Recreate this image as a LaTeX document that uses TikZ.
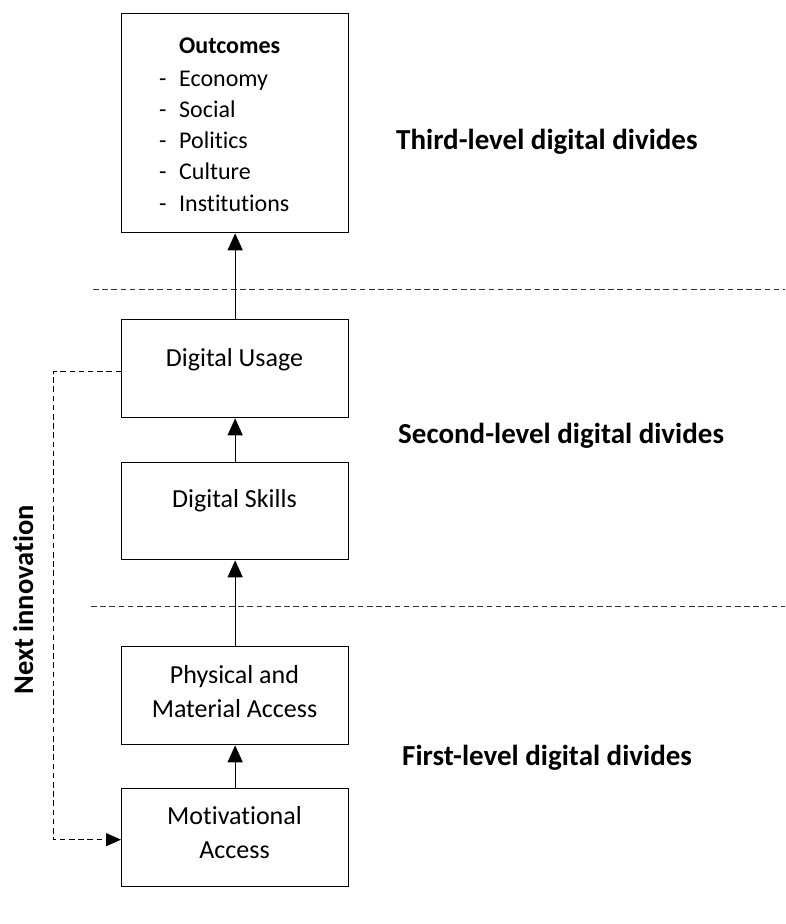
\documentclass[tikz,border=0pt]{standalone}
\usepackage{fontspec}
\setmainfont{Carlito}[RawFeature={-liga,-dlig,-clig}]
\usetikzlibrary{arrows.meta}
\begin{document}
\begin{tikzpicture}[x=1pt,y=-1pt,
  box/.style={draw, line width=1.3pt, minimum width=227pt, inner sep=0pt, anchor=north west},
  boxtext/.style={anchor=base, inner sep=0pt, font=\fontsize{26}{34}\selectfont},
  listtext/.style={anchor=base west, inner sep=0pt, font=\fontsize{24}{31}\selectfont},
  lvl/.style={anchor=base west, inner sep=0pt, font=\fontsize{29}{35}\selectfont\bfseries},
  arr/.style={line width=1.3pt, -{Triangle[length=17pt,width=15pt]}},
  feedback/.style={line width=1pt, dash pattern=on 5.5pt off 3.7pt, -{Triangle[length=15pt,width=13pt]}},
  divider/.style={line width=1pt, black!80, dash pattern=on 5.5pt off 3.7pt}
]
\useasboundingbox (0,0) rectangle (785,924);

% boxes of the model
\node[box, minimum height=219pt] (outcomes) at (121,13) {};
\node[box, minimum height=98pt] (usage) at (121,319) {};
\node[box, minimum height=97pt] (skills) at (121,462) {};
\node[box, minimum height=98pt] (physical) at (121,646) {};
\node[box, minimum height=98pt] (motiv) at (121,788) {};

% outcomes list
\node[listtext, font=\fontsize{24}{31}\selectfont\bfseries] (outT) at (179,53) {Outcomes};
\node[listtext] (o1) at (159,86) {\makebox[20pt][l]{-}Economy};
\node[listtext] (o2) at (159,117) {\makebox[20pt][l]{-}Social};
\node[listtext] (o3) at (159,148) {\makebox[20pt][l]{-}Politics};
\node[listtext] (o4) at (159,179) {\makebox[20pt][l]{-}Culture};
\node[listtext] (o5) at (159,211) {\makebox[20pt][l]{-}Institutions};

% box captions
\node[boxtext] (usageT) at (234.5,366) {Digital Usage};
\node[boxtext] (skillsT) at (234.5,507) {Digital Skills};
\node[boxtext] (physT1) at (234.5,683) {Physical and};
\node[boxtext] (physT2) at (234.5,717) {Material Access};
\node[boxtext] (motivT1) at (234.5,824) {Motivational};
\node[boxtext] (motivT2) at (234.5,858) {Access};

% upward flow
\draw[arr] (usage.north) -- (outcomes.south);
\draw[arr] (skills.north) -- (usage.south);
\draw[arr] (physical.north) -- (skills.south);
\draw[arr] (motiv.north) -- (physical.south);

% feedback loop
\draw[feedback] ([yshift=-3pt]usage.west) -- ++(-68,0) |- ([yshift=-2pt]motiv.west);
\node[lvl, font=\fontsize{28.5}{34}\selectfont\bfseries, anchor=base, rotate=90] (next) at (33,600) {Next innovation};

% level dividers
\coordinate (d1a) at (93,289);
\coordinate (d1b) at (785,289);
\coordinate (d2a) at (91,606);
\coordinate (d2b) at (785,606);
\draw[divider] (d1a) -- (d1b);
\draw[divider] (d2a) -- (d2b);

% level labels
\node[lvl] (third) at (396,149) {Third-level digital divides};
\node[lvl] (second) at (398,443) {Second-level digital divides};
\node[lvl] (first) at (402,765) {First-level digital divides};
\end{tikzpicture}
\end{document}
